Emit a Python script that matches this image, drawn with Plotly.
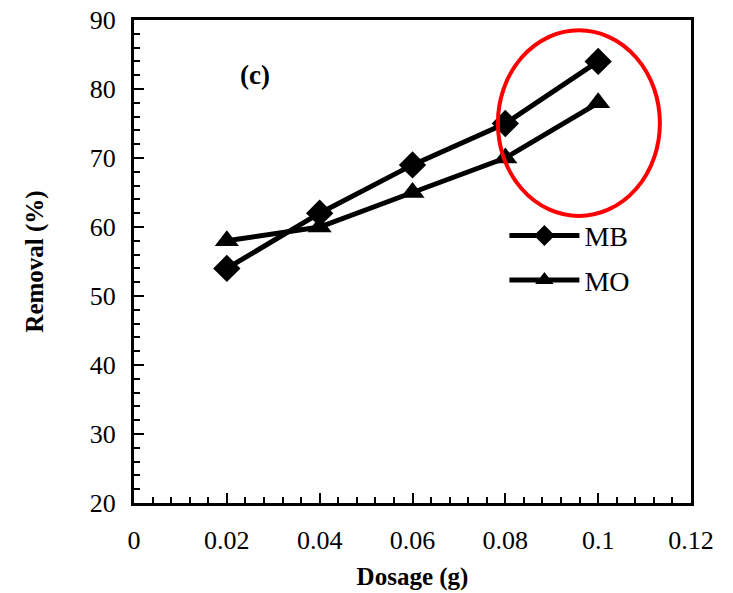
import plotly.graph_objects as go

# Dye removal vs. adsorbent dosage
dosage = [0.02, 0.04, 0.06, 0.08, 0.10]
removal_mb = [54, 62, 69, 75, 84]
removal_mo = [58, 60, 65, 70, 78]

x_ticks = [0, 0.02, 0.04, 0.06, 0.08, 0.1, 0.12]
x_tick_text = ["0", "0.02", "0.04", "0.06", "0.08", "0.1", "0.12"]
y_ticks = [20, 30, 40, 50, 60, 70, 80, 90]

serif = "Liberation Serif, Times New Roman, serif"

fig = go.Figure()
fig.add_trace(go.Scatter(
    x=dosage, y=removal_mb, name="MB", mode="lines+markers", legendgroup="mb",
    line=dict(color="black", width=5),
    marker=dict(symbol="diamond", size=21, color="black"),
))
fig.add_trace(go.Scatter(
    x=dosage, y=removal_mo, name="MO", mode="lines+markers", legendgroup="mo",
    line=dict(color="black", width=5),
    marker=dict(symbol="triangle-up", size=21, color="black"),
))

# highlight of the high-dosage region
fig.add_shape(type="circle", xref="x", yref="y",
              x0=0.0784, x1=0.1133, y0=61.6, y1=88.5,
              line=dict(color="#ff0000", width=4))

fig.add_annotation(x=0.026, y=82, xref="x", yref="y", text="<b>(c)</b>",
                   showarrow=False, font=dict(family=serif, size=27, color="black"))

fig.update_layout(
    width=733, height=593,
    margin=dict(l=134, r=42, t=20, b=90),
    paper_bgcolor="white", plot_bgcolor="white",
    showlegend=True,
    legend=dict(x=0.665, y=0.605, xanchor="left", yanchor="top",
                bgcolor="rgba(0,0,0,0)", itemwidth=70,
                font=dict(family=serif, size=28, color="black"),
                tracegroupgap=5),
    font=dict(family=serif, color="black"),
)

fig.update_xaxes(
    range=[0, 0.12], tickvals=x_ticks, ticktext=x_tick_text,
    showline=True, linecolor="black", linewidth=3, mirror=True,
    ticks="inside", ticklen=10, tickwidth=2, tickcolor="black",
    minor=dict(dtick=0.004, ticks="inside", ticklen=6, tickwidth=2, tickcolor="black"),
    showgrid=False, zeroline=False, automargin=False,
    tickfont=dict(family=serif, size=26, color="black"),
    ticklabelstandoff=12,
    title=dict(text="<b>Dosage (g)</b>", font=dict(family=serif, size=25, color="black"), standoff=14),
)
fig.update_yaxes(
    range=[20, 90], tickvals=y_ticks,
    showline=True, linecolor="black", linewidth=3, mirror=True,
    ticks="inside", ticklen=10, tickwidth=2, tickcolor="black",
    minor=dict(dtick=2, ticks="inside", ticklen=6, tickwidth=2, tickcolor="black"),
    showgrid=False, zeroline=False, automargin=False,
    tickfont=dict(family=serif, size=26, color="black"),
    ticklabelstandoff=10,
    title=dict(text="<b>Removal (%)</b>", font=dict(family=serif, size=25, color="black"), standoff=40),
)

fig.write_html("out.html")
